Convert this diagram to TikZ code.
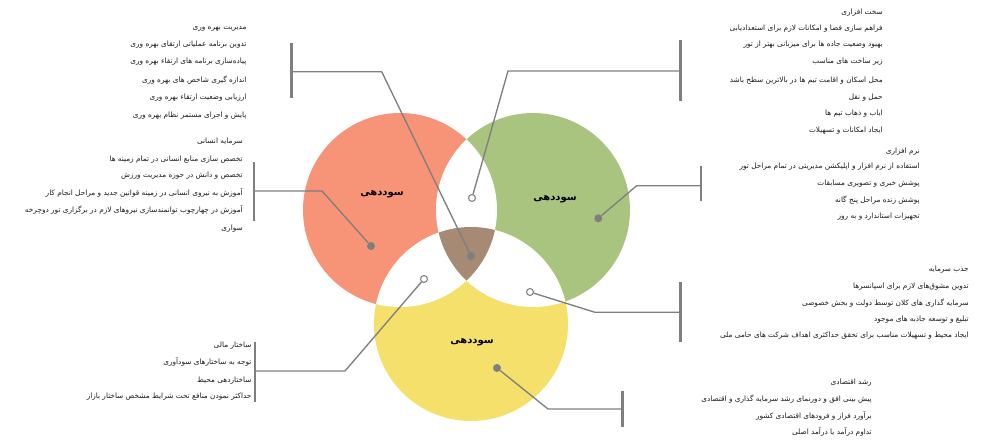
\documentclass[tikz,border=0pt]{standalone}
\usepackage{fontspec}
\newfontfamily\arabicfont[Script=Arabic]{DejaVu Sans}
\TeXXeTstate=1
\definecolor{cred}{HTML}{F79377}
\definecolor{cgreen}{HTML}{A9C47F}
\definecolor{cyellow}{HTML}{F4E06A}
\definecolor{cbrown}{HTML}{A68A74}
\definecolor{cline}{HTML}{7F7F7F}
\definecolor{ctxt}{HTML}{1A1A1A}
\begin{document}
\begin{tikzpicture}[x=0.75pt,y=-0.75pt,
  fa/.style={anchor=base east, inner sep=0pt, text=ctxt,
    font=\arabicfont\fontsize{5.5}{6.5}\selectfont},
  biglbl/.style={inner sep=0pt, text=black,
    font=\arabicfont\bfseries\fontsize{7.5}{9}\selectfont},
  fdot/.style={circle, fill=cline, inner sep=0pt, minimum size=6pt},
  hdot/.style={circle, draw=cline, fill=white, line width=0.8pt, inner sep=0pt, minimum size=5.2pt},
  conn/.style={draw=cline, line width=1pt},
  barline/.style={draw=cline, line width=2pt}]
\useasboundingbox (0,0) rectangle (990,446);
% circles
\coordinate (R) at (400,210);
\coordinate (G) at (533,210);
\coordinate (Y) at (471,324);
\fill[cred] (R) circle (97);
\fill[cgreen] (G) circle (97);
\fill[cyellow] (Y) circle (97);
\begin{scope}
  \clip (R) circle (97);
  \fill[white] (G) circle (97);
  \fill[white] (Y) circle (97);
\end{scope}
\begin{scope}
  \clip (G) circle (97);
  \fill[white] (Y) circle (97);
\end{scope}
\begin{scope}
  \clip (R) circle (97);
  \clip (G) circle (97);
  \fill[cbrown] (Y) circle (97);
\end{scope}
% circle labels
\node[biglbl] (lr) at (382,194) {\beginR سوددهی\endR};
\node[biglbl] (lg) at (555,199) {\beginR سوددهی\endR};
\node[biglbl] (ly) at (472,342) {\beginR سوددهی\endR};
% corners and bar points
\coordinate (c1) at (381.7,71.7); \coordinate (b1) at (291.7,71.7);
\coordinate (c2) at (508,71);     \coordinate (b2) at (680.7,71);
\coordinate (c3) at (322,191);    \coordinate (b3) at (254,191);
\coordinate (c4) at (636.7,185.7);\coordinate (b4) at (701,185.7);
\coordinate (c5) at (345,371);    \coordinate (b5) at (255,371);
\coordinate (c6) at (595,312.3);  \coordinate (b6) at (680.7,312.3);
\coordinate (c7) at (548,409);    \coordinate (b7) at (622.3,409);
% bar ends
\coordinate (t1) at (291.7,42.7);  \coordinate (u1) at (291.7,97.7);
\coordinate (t2) at (680.7,40);    \coordinate (u2) at (680.7,101);
\coordinate (t3) at (254,162.3);   \coordinate (u3) at (254,220.7);
\coordinate (t4) at (701,165.7);   \coordinate (u4) at (701,201);
\coordinate (t5) at (255,341.7);   \coordinate (u5) at (255,401.7);
\coordinate (t6) at (680.7,282);   \coordinate (u6) at (680.7,342);
\coordinate (t7) at (622.3,390.7); \coordinate (u7) at (622.3,427);
\foreach \i in {1,...,7} {\draw[barline] (t\i) -- (u\i);}
% dots
\node[fdot] (d1) at (471,256) {};
\node[fdot] (d2) at (371,246) {};
\node[fdot] (d3) at (598.3,218.3) {};
\node[fdot] (d4) at (497,368) {};
\node[hdot] (h1) at (472,198) {};
\node[hdot] (h2) at (424,279) {};
\node[hdot] (h3) at (530,292) {};
% connectors
\draw[conn] (d1) -- (c1) -- (b1);
\draw[conn] (h1) -- (c2) -- (b2);
\draw[conn] (d2) -- (c3) -- (b3);
\draw[conn] (d3) -- (c4) -- (b4);
\draw[conn] (h2) -- (c5) -- (b5);
\draw[conn] (h3) -- (c6) -- (b6);
\draw[conn] (d4) -- (c7) -- (b7);
% text blocks
\foreach \yy/\ss [count=\k] in {12.7/سخت افزاری, 28.3/فراهم سازی فضا و امکانات لازم برای استعدادیابی, 44.3/بهبود وضعیت جاده ها برای میزبانی بهتر از تور, 61.7/زیر ساخت های مناسب, 80/محل اسکان و اقامت تیم ها در بالاترین سطح باشد, 97.3/حمل و نقل, 113.3/ایاب و ذهاب تیم ها, 130/ایجاد امکانات و تسهیلات}
  {\node[fa] (hw\k) at (883,\yy+2) {\beginR\ss\endR};}
\foreach \yy/\ss [count=\k] in {151.7/نرم افزاری, 166.7/استفاده از نرم افزار و اپلیکشن مدیریتی در تمام مراحل تور, 183.3/پوشش خبری و تصویری مسابقات, 200/پوشش زنده مراحل پنج گانه, 216.7/تجهیزات استاندارد و به روز}
  {\node[fa] (sw\k) at (920,\yy+2) {\beginR\ss\endR};}
\foreach \yy/\ss [count=\k] in {269/جذب سرمایه, 286/تدوین مشوق‌های لازم برای اسپانسرها, 303.3/سرمایه گذاری های کلان توسط دولت و بخش خصوصی, 319.3/تبلیغ و توسعه جاذبه های موجود, 335/ایجاد محیط و تسهیلات مناسب برای تحقق حداکثری اهداف شرکت های حامی ملی}
  {\node[fa] (ja\k) at (969,\yy+2) {\beginR\ss\endR};}
\foreach \yy/\ss [count=\k] in {382/رشد اقتصادی, 399/پیش بینی افق و دورنمای رشد سرمایه گذاری و اقتصادی, 416/برآورد فراز و فرودهای اقتصادی کشور, 432.7/تداوم درآمد یا درآمد اصلی}
  {\node[fa] (re\k) at (872,\yy+2) {\beginR\ss\endR};}
\foreach \yy/\ss [count=\k] in {27.3/مدیریت بهره وری, 44/تدوین برنامه عملیاتی ارتقای بهره وری, 61.7/پیاده‌سازی برنامه های ارتقاء بهره وری, 80/اندازه گیری شاخص های بهره وری, 97.7/ارزیابی وضعیت ارتقاء بهره وری, 115.7/پایش و اجرای مستمر نظام بهره وری}
  {\node[fa] (mb\k) at (246.7,\yy+2) {\beginR\ss\endR};}
\foreach \yy/\ss [count=\k] in {141.7/سرمایه انسانی, 159.3/تخصص سازی منابع انسانی در تمام زمینه ها, 175.7/تخصص و دانش در حوزه مدیریت ورزش, 193.3/آموزش به نیروی انسانی در زمینه قوانین جدید و مراحل انجام کار, 210/آموزش در چهارچوب توانمندسازی نیروهای لازم در برگزاری تور دوچرخه, 228.3/سواری}
  {\node[fa] (sa\k) at (243,\yy+2) {\beginR\ss\endR};}
\foreach \yy/\ss [count=\k] in {345/ساختار مالی, 362.3/توجه به ساختارهای سودآوری, 380/ساختاردهی محیط, 396.7/حداکثر نمودن منافع تحت شرایط مشخص ساختار بازار}
  {\node[fa] (sm\k) at (251.7,\yy+2) {\beginR\ss\endR};}
\end{tikzpicture}
\end{document}
